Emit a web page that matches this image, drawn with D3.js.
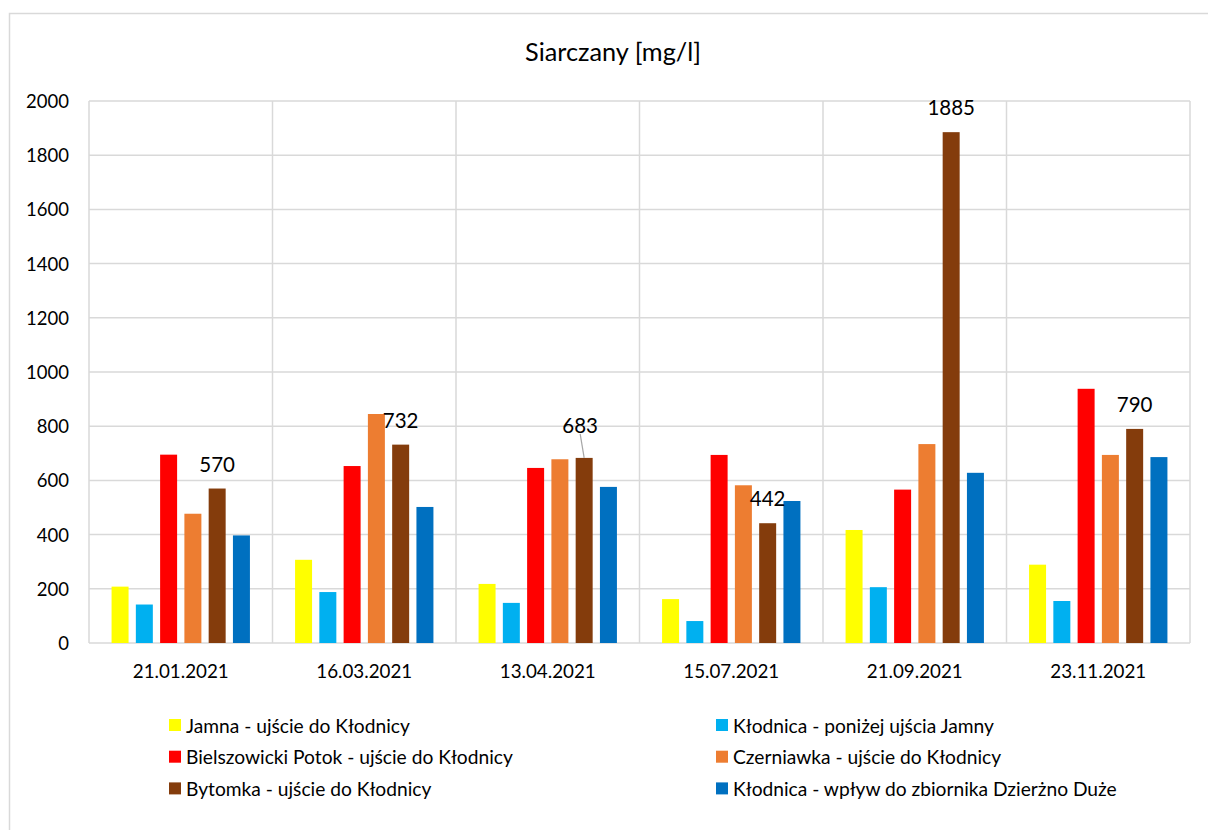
<!DOCTYPE html>
<html>
<head>
<meta charset="utf-8">
<script src="https://cdn.jsdelivr.net/npm/d3@7/dist/d3.min.js"></script>
<style>
  body { margin: 0; background: #fff; }
  text { font-family: Lato, "Open Sans", sans-serif; fill: #000; }
</style>
</head>
<body>
<div class="chart"></div>
<script>
// dates of sampling
var dates = ["21.01.2021", "16.03.2021", "13.04.2021", "15.07.2021", "21.09.2021", "23.11.2021"];

var seriesNames = [
  "Jamna - ujście do Kłodnicy",
  "Kłodnica - poniżej ujścia Jamny",
  "Bielszowicki Potok - ujście do Kłodnicy",
  "Czerniawka - ujście do Kłodnicy",
  "Bytomka - ujście do Kłodnicy",
  "Kłodnica - wpływ do zbiornika Dzierżno Duże"
];

var jamna = [208, 307, 218, 162, 417, 289];
var klodnicaJamny = [142, 188, 148, 81, 206, 155];
var bielszowicki = [695, 653, 646, 694, 566, 938];
var czerniawka = [477, 845, 678, 582, 734, 694];
var bytomka = [570, 732, 683, 442, 1885, 790];
var klodnicaDzierzno = [397, 502, 576, 524, 628, 686];

var yTicks = [0, 200, 400, 600, 800, 1000, 1200, 1400, 1600, 1800, 2000];

var colors = ["#FFFF00", "#00B0F0", "#FF0000", "#ED7D31", "#843C0C", "#0070C0"];

var seriesValues = [jamna, klodnicaJamny, bielszowicki, czerniawka, bytomka, klodnicaDzierzno];

var W = 1208, H = 830;
var plot = {left: 89, top: 101, right: 1190, bottom: 643};

var svg = d3.select(".chart").append("svg")
  .attr("width", W)
  .attr("height", H);

// outer chart border
svg.append("rect")
  .attr("x", 9.5).attr("y", 13.5)
  .attr("width", W + 10).attr("height", H + 10)
  .attr("fill", "#fff")
  .attr("stroke", "#d9d9d9")
  .attr("stroke-width", 1.5);

svg.append("text")
  .attr("x", 613)
  .attr("y", 51)
  .attr("dominant-baseline", "central")
  .style("text-anchor", "middle")
  .style("font-size", "25.3px")
  .text("Siarczany [mg/l]");

var x0 = d3.scaleBand()
  .domain(dates)
  .range([plot.left, plot.right])
  .padding(0);

var gap = x0.bandwidth() * 0.123;
var x1 = d3.scaleBand()
  .domain(d3.range(seriesNames.length))
  .range([gap, x0.bandwidth() - gap])
  .paddingInner(0.3)
  .paddingOuter(0);

var y = d3.scaleLinear()
  .domain([0, 2000])
  .range([plot.bottom, plot.top]);

// horizontal grid
svg.append("g")
  .selectAll("line")
  .data(yTicks)
  .enter().append("line")
    .attr("x1", plot.left).attr("x2", plot.right)
    .attr("y1", function(d) { return y(d); })
    .attr("y2", function(d) { return y(d); })
    .attr("stroke", "#d9d9d9")
    .attr("stroke-width", 1.5);

// vertical grid at category boundaries
var bounds = dates.map(function(d) { return x0(d); }).concat([plot.right]);
svg.append("g")
  .selectAll("line")
  .data(bounds)
  .enter().append("line")
    .attr("x1", function(d) { return d; })
    .attr("x2", function(d) { return d; })
    .attr("y1", plot.top).attr("y2", plot.bottom)
    .attr("stroke", "#d9d9d9")
    .attr("stroke-width", 1.5);

// y tick labels
svg.append("g")
  .selectAll("text")
  .data(yTicks)
  .enter().append("text")
    .attr("x", 69)
    .attr("y", function(d) { return y(d); })
    .attr("dominant-baseline", "central")
    .style("text-anchor", "end")
    .style("font-size", "18.5px")
    .text(function(d) { return d; });

// x labels
svg.append("g")
  .selectAll("text")
  .data(dates)
  .enter().append("text")
    .attr("x", function(d) { return x0(d) + x0.bandwidth() / 2; })
    .attr("y", 670)
    .attr("dominant-baseline", "central")
    .style("text-anchor", "middle")
    .style("font-size", "18.8px")
    .text(function(d) { return d; });

// bars
var groups = svg.selectAll(".serie")
  .data(seriesValues)
  .enter().append("g")
    .attr("class", "serie")
    .attr("fill", function(d, i) { return colors[i]; });

groups.each(function(vals, si) {
  d3.select(this).selectAll("rect")
    .data(vals)
    .enter().append("rect")
      .attr("x", function(d, i) { return x0(dates[i]) + x1(si); })
      .attr("y", function(d) { return y(d); })
      .attr("width", x1.bandwidth())
      .attr("height", function(d) { return y(0) - y(d); });
});

// data labels on Bytomka; one label was moved up with a leader line
var labelSeries = 4;
var labels = svg.append("g");
bytomka.forEach(function(v, i) {
  var cx = x0(dates[i]) + x1(labelSeries) + x1.bandwidth() / 2;
  var dx = 0, dy = -25;
  if (dates[i] == "13.04.2021") {
    dx = -4; dy = -33;
    labels.append("line")
      .attr("x1", cx + dx).attr("y1", y(v) + dy + 9)
      .attr("x2", cx).attr("y2", y(v))
      .attr("stroke", "#a6a6a6")
      .attr("stroke-width", 1.2);
  }
  labels.append("text")
    .attr("x", cx + dx)
    .attr("y", y(v) + dy)
    .attr("dominant-baseline", "central")
    .style("text-anchor", "middle")
    .style("font-size", "20.5px")
    .text(v);
});

// legend
var legend = svg.selectAll(".legend")
  .data(seriesNames)
  .enter().append("g")
    .attr("class", "legend")
    .attr("transform", function(d, i) {
      var lx = i % 2 == 0 ? 169 : 716;
      var ly = 725 + Math.floor(i / 2) * 31.7;
      return "translate(" + lx + "," + ly + ")";
    });

legend.append("rect")
  .attr("x", 0).attr("y", -6)
  .attr("width", 12).attr("height", 12)
  .attr("fill", function(d, i) { return colors[i]; });

legend.append("text")
  .attr("x", 17)
  .attr("y", 0)
  .attr("dominant-baseline", "central")
  .style("font-size", "19.2px")
  .text(function(d) { return d; });
</script>
</body>
</html>
